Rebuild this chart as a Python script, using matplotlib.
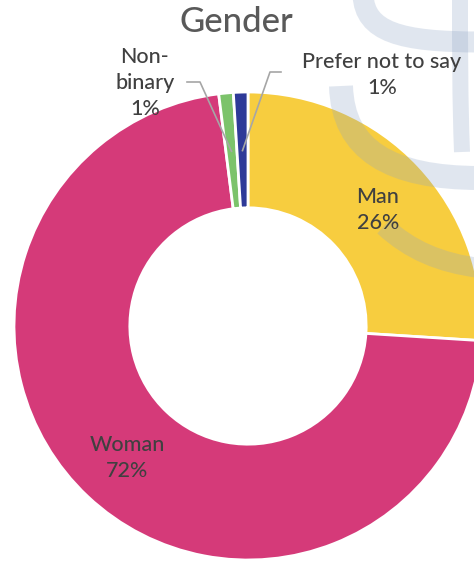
import matplotlib
matplotlib.use("Agg")
import matplotlib.pyplot as plt
from matplotlib.path import Path
from matplotlib.patches import PathPatch
import numpy as np

plt.rcParams['font.family'] = ['Lato', 'DejaVu Sans']

# gender split, clockwise from 12 o'clock
labels = ['Man', 'Woman', 'Non-\nbinary', 'Prefer not to say']
shares = [26, 72, 1, 1]
colors = ['#F7CD3F', '#D53A79', '#7CC36B', '#2E3A98']

W, H, DPI = 474, 562, 100
fig = plt.figure(figsize=(W / DPI, H / DPI), dpi=DPI, facecolor='white')

# donut centre / radius in pixels
cx, cy, R = 248, 326, 234
ax = fig.add_axes([(cx - R) / W, (H - cy - R) / H, 2 * R / W, 2 * R / H])
wedges, _ = ax.pie(shares, colors=colors, startangle=90, counterclock=False,
                   radius=1, wedgeprops=dict(width=0.495, edgecolor='white', linewidth=2))
ax.set_xlim(-1, 1)
ax.set_ylim(-1, 1)
ax.set_aspect('equal')
ax.axis('off')

# overlay in pixel coords for the faint logo and the text
ov = fig.add_axes([0, 0, 1, 1])
ov.set_xlim(0, W)
ov.set_ylim(H, 0)
ov.axis('off')
ov.patch.set_alpha(0)

def band(pts, width):
    codes = [Path.MOVETO] + [Path.CURVE4] * (len(pts) - 1)
    ov.add_patch(PathPatch(Path(pts, codes), fill=False, edgecolor='#8FA5C6',
                           alpha=0.27, lw=width * 72 / DPI, capstyle='butt', zorder=1))

band([(363, -5), (365, 32), (400, 42), (480, 42)], 21)
band([(460, -5), (460, 50), (460, 100), (462, 152)], 16)
band([(341, 86), (343, 150), (390, 178), (480, 178)], 24)
band([(384, 226), (410, 250), (440, 263), (480, 268)], 20)

# leader lines from the small slices
def mid(w, r=0.75):
    a = np.deg2rad((w.theta1 + w.theta2) / 2)
    x, y = r * np.cos(a), r * np.sin(a)
    return cx + x * R, cy - y * R

gx, gy = mid(wedges[2])
bx, by = mid(wedges[3])
ov.plot([187, 200, gx], [82, 82, gy], color='#A6A6A6', lw=1.2, zorder=3)
ov.plot([281, 270, bx], [72, 72, by], color='#A6A6A6', lw=1.2, zorder=3)

txt = dict(color='#404040', fontsize=15.5, fontweight='medium', ha='center',
           va='center', zorder=4, linespacing=1.4)
ov.text(378, 210, 'Man\n26%', **txt)
ov.text(127, 458, 'Woman\n72%', **txt)
ov.text(145, 83, 'Non-\nbinary\n1%', **txt)
ov.text(382, 75, 'Prefer not to say\n1%', **txt)

ov.text(236, 22, 'Gender', color='#595959', fontsize=25, fontweight='medium',
        ha='center', va='center', zorder=4)

fig.savefig('out.png', dpi=DPI, facecolor='white')
